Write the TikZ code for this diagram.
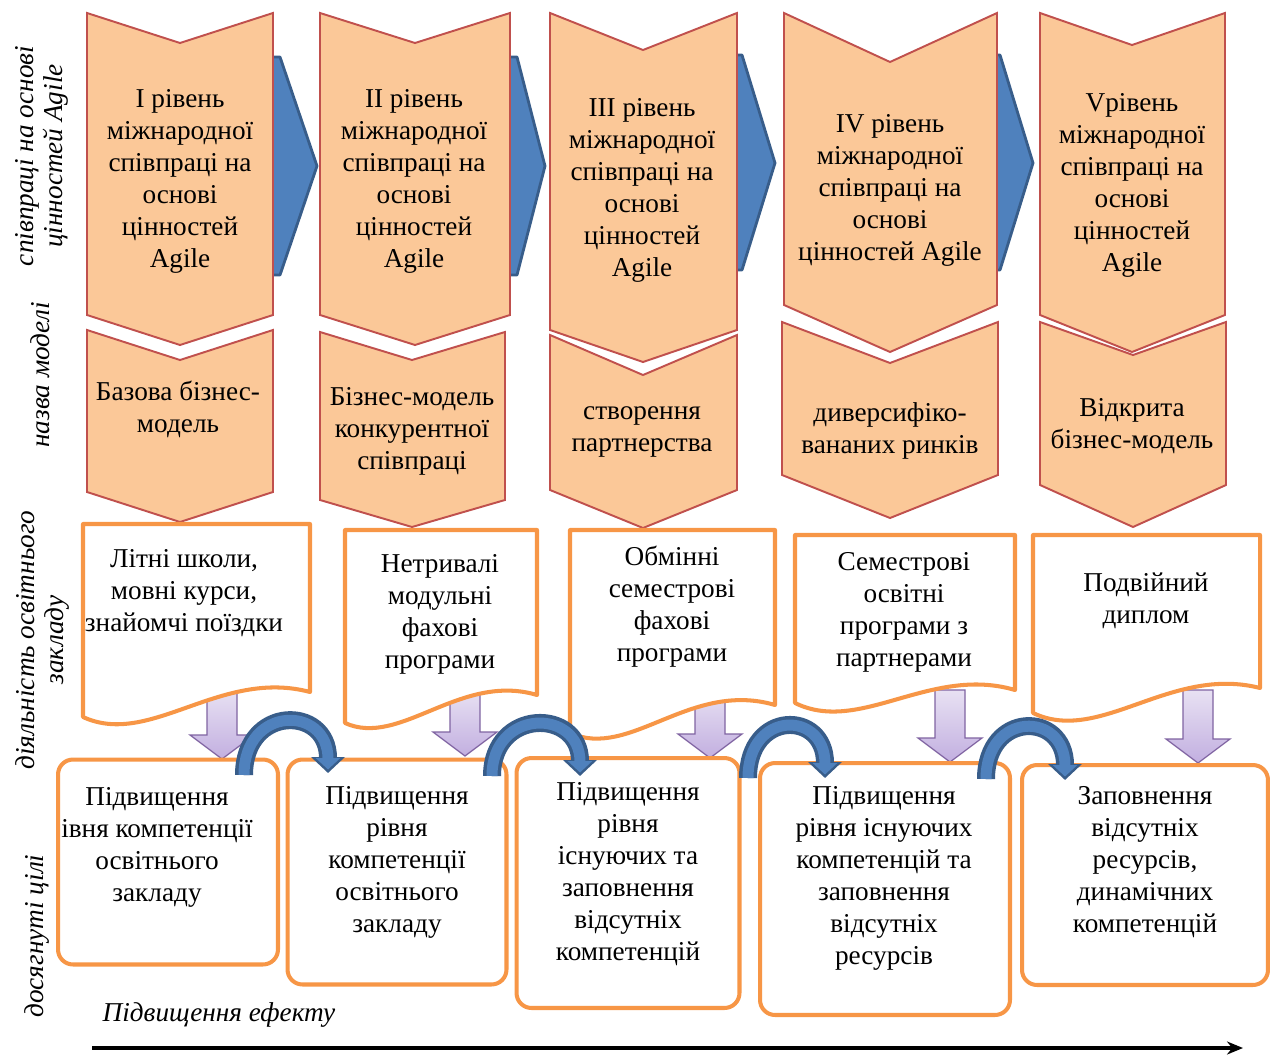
\documentclass[tikz,border=0pt]{standalone}
\usepackage{fontspec}
\setmainfont{Liberation Serif}
\usetikzlibrary{arrows.meta}

\definecolor{chev}{HTML}{FBC898}
\definecolor{chevline}{HTML}{C0504D}
\definecolor{orng}{HTML}{F79646}
\definecolor{blu}{HTML}{4F81BD}
\definecolor{bluline}{HTML}{385D8A}
\definecolor{lil}{HTML}{E8E1F3}
\definecolor{lilb}{HTML}{C2AFE0}
\definecolor{lilline}{HTML}{8064A2}

\begin{document}
\begin{tikzpicture}[x=0.02cm,y=-0.02cm]
\tikzstyle{txt}=[align=center,font=\fontsize{15.5}{18.2}\selectfont,inner sep=0]
\tikzstyle{side}=[align=center,rotate=90,inner sep=0,font=\fontsize{15.5}{16.5}\selectfont\itshape]
\tikzstyle{chv}=[fill=chev,draw=chevline,line width=1.1pt,line join=miter]
\tikzstyle{blk}=[fill=blu,draw=bluline,line width=1.6pt,line join=round]
\tikzstyle{doc}=[fill=white,draw=orng,line width=2.3pt,line join=round]
\tikzstyle{goal}=[draw=orng,fill=white,line width=2.3pt,rounded corners=0.3cm,inner sep=0]
\tikzstyle{down}=[top color=lil,bottom color=lilb,draw=lilline,line width=0.7pt]
\tikzstyle{arc}=[line width=0.36cm,draw=bluline,-{Triangle[width=0.66cm,length=0.32cm]}]
\tikzstyle{arcin}=[line width=0.22cm,draw=blu,shorten >=0.07cm,-{Triangle[width=0.48cm,length=0.23cm]}]

\useasboundingbox (0,0) rectangle (1270,1057);

% blue arrows between the levels
\draw[blk] (262,57) -- (280,57) -- (317,166) -- (280,275) -- (262,275) -- cycle;
\draw[blk] (500,57) -- (517,57) -- (545,166) -- (517,275) -- (500,275) -- cycle;
\draw[blk] (725,55) -- (742,55) -- (775,163) -- (742,270) -- (725,270) -- cycle;
\draw[blk] (985,55) -- (1000,55) -- (1033,163) -- (1000,270) -- (985,270) -- cycle;

% levels
\draw[chv] (87,13) -- (180,43) -- (273,13) -- (273,315) -- (180,345) -- (87,315) -- cycle;
\draw[chv] (320,13) -- (415,43) -- (510,13) -- (510,315) -- (415,345) -- (320,315) -- cycle;
\draw[chv] (550,13) -- (643,50) -- (737,13) -- (737,330) -- (643,362) -- (550,330) -- cycle;
\draw[chv] (784,13) -- (890,62) -- (997,13) -- (997,305) -- (890,352) -- (784,305) -- cycle;
\draw[chv] (1040,13) -- (1132,45) -- (1225,13) -- (1225,315) -- (1132,352) -- (1040,315) -- cycle;

% models
\draw[chv] (87,330) -- (180,360) -- (273,330) -- (273,492) -- (180,522) -- (87,492) -- cycle;
\draw[chv] (320,332) -- (412,360) -- (505,332) -- (505,500) -- (412,527) -- (320,500) -- cycle;
\draw[chv] (550,335) -- (643,375) -- (737,335) -- (737,490) -- (643,528) -- (550,490) -- cycle;
\draw[chv] (782,322) -- (890,363) -- (998,322) -- (998,475) -- (890,518) -- (782,475) -- cycle;
\draw[chv] (1040,322) -- (1133,355) -- (1226,322) -- (1226,485) -- (1133,527) -- (1040,485) -- cycle;

\node (1) at (180,181) [txt]{І рівень\\міжнародної\\співпраці на\\основі\\цінностей\\Agile};
\node (2) at (414,181) [txt]{ІІ рівень\\міжнародної\\співпраці на\\основі\\цінностей\\Agile};
\node (3) at (642,190) [txt]{ІІІ рівень\\міжнародної\\співпраці на\\основі\\цінностей\\Agile};
\node (4) at (890,190) [txt]{IV рівень\\міжнародної\\співпраці на\\основі\\цінностей Agile};
\node (5) at (1132,185) [txt]{Vрівень\\міжнародної\\співпраці на\\основі\\цінностей\\Agile};

\node (6) at (178,409) [txt]{Базова бізнес-\\модель};
\node (7) at (412,431) [txt]{Бізнес-модель\\конкурентної\\співпраці};
\node (8) at (642,432) [txt]{створення\\партнерства};
\node (9) at (890,431) [txt]{диверсифіко-\\вананих ринків};
\node (10) at (1132,426) [txt]{Відкрита\\бізнес-модель};

% down arrows
\draw[down] (207,690) -- (237,690) -- (237,735) -- (254,735) -- (222,759) -- (190,735) -- (207,735) -- cycle;
\draw[down] (450,690) -- (480,690) -- (480,732) -- (497,732) -- (465,756) -- (433,732) -- (450,732) -- cycle;
\draw[down] (695,690) -- (725,690) -- (725,734) -- (742,734) -- (710,758) -- (678,734) -- (695,734) -- cycle;
\draw[down] (935,690) -- (965,690) -- (965,738) -- (982,738) -- (950,762) -- (918,738) -- (935,738) -- cycle;
\draw[down] (1183,690) -- (1213,690) -- (1213,739) -- (1230,739) -- (1198,763) -- (1166,739) -- (1183,739) -- cycle;

% activities
\draw[doc] (83,524) -- (310,524) -- (310,692) .. controls (220,668) and (150,748) .. (83,717) -- cycle;
\draw[doc] (345,530) -- (537,530) -- (537,695) .. controls (460,672) and (400,748) .. (345,723) -- cycle;
\draw[doc] (570,530) -- (775,530) -- (775,705) .. controls (690,680) and (630,760) .. (570,733) -- cycle;
\draw[doc] (795,535) -- (1015,535) -- (1015,690) .. controls (930,665) and (860,735) .. (795,703) -- cycle;
\draw[doc] (1033,535) -- (1260,535) -- (1260,688) .. controls (1170,665) and (1100,745) .. (1033,713) -- cycle;

\node (11) at (184,593) [txt]{Літні школи,\\мовні курси,\\знайомчі поїздки};
\node (12) at (440,614) [txt]{Нетривалі\\модульні\\фахові\\програми};
\node (13) at (672,607) [txt]{Обмінні\\семестрові\\фахові\\програми};
\node (14) at (904,612) [txt]{Семестрові\\освітні\\програми з\\партнерами};
\node (15) at (1146,601) [txt]{Подвійний\\диплом};

% goals
\node (16) at (168,862) [goal,minimum width=4.4cm,minimum height=4.1cm]{};
\node (17) at (397,872) [goal,minimum width=4.38cm,minimum height=4.5cm]{};
\node (18) at (628,883) [goal,minimum width=4.46cm,minimum height=5cm]{};
\node (19) at (885,889) [goal,minimum width=5cm,minimum height=5.04cm]{};
\node (20) at (1145,875) [goal,minimum width=4.92cm,minimum height=4.4cm]{};

\node (21) at (157,847) [txt]{Підвищення\\ івня компетенції\\освітнього\\закладу};
\node (22) at (397,862) [txt]{Підвищення\\рівня\\компетенції\\освітнього\\закладу};
\node (23) at (628,874) [txt]{Підвищення\\рівня\\існуючих та\\заповнення\\відсутніх\\компетенцій};
\node (24) at (884,878) [txt]{Підвищення\\рівня існуючих\\компетенцій та\\заповнення\\відсутніх\\ресурсів};
\node (25) at (1145,862) [txt]{Заповнення\\відсутніх\\ресурсів,\\динамічних\\компетенцій};

% curved arrows between goals
\coordinate (a1) at (244,775);
\coordinate (a2) at (328,773);
\coordinate (a3) at (492,776);
\coordinate (a4) at (580,776);
\coordinate (a5) at (748,778);
\coordinate (a6) at (825,778);
\coordinate (a7) at (986,779);
\coordinate (a8) at (1065,780);
\draw[arc] (a1) .. controls (244,705) and (328,705) .. (a2);
\draw[arcin] (a1) .. controls (244,705) and (328,705) .. (a2);
\draw[arc] (a3) .. controls (492,708) and (580,708) .. (a4);
\draw[arcin] (a3) .. controls (492,708) and (580,708) .. (a4);
\draw[arc] (a5) .. controls (748,710) and (825,710) .. (a6);
\draw[arcin] (a5) .. controls (748,710) and (825,710) .. (a6);
\draw[arc] (a7) .. controls (986,711) and (1065,711) .. (a8);
\draw[arcin] (a7) .. controls (986,711) and (1065,711) .. (a8);

% row titles
\node (26) at (42,156) [side]{співпраці на основі\\цінностей Agile};
\node (27) at (40,375) [side]{назва моделі};
\node (28) at (42,640) [side]{діяльність освітнього\\закладу};
\node (29) at (37,936) [side]{досягнуті цілі};

\node (30) at (219,1015) [txt,font=\fontsize{15.5}{18.2}\selectfont\itshape]{Підвищення ефекту};
\coordinate (e1) at (92,1048);
\coordinate (e2) at (1243,1048);
\draw[line width=1.8pt,-{Stealth[length=0.32cm,width=0.26cm]}] (e1) -- (e2);
\end{tikzpicture}
\end{document}
